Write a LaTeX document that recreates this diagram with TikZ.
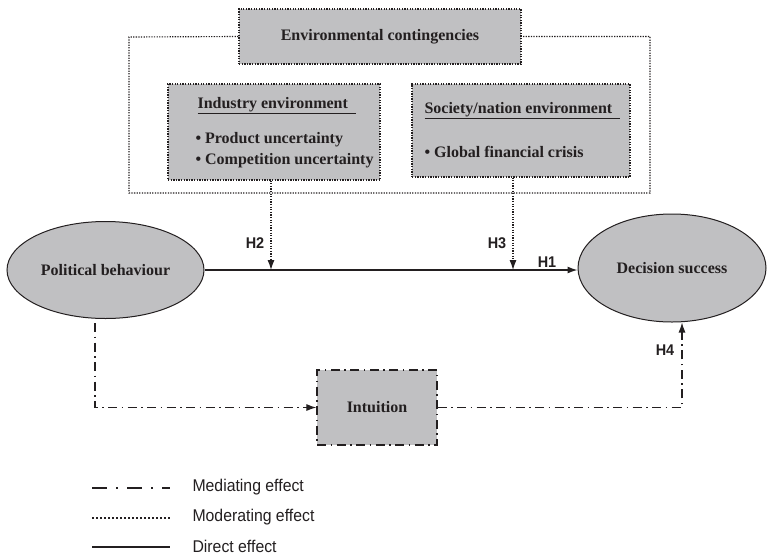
\documentclass[tikz,border=0pt]{standalone}
\usepackage{fontspec}
\setmainfont{Liberation Serif}
\newfontfamily\hsans[FakeStretch=0.93]{Liberation Sans}
\usetikzlibrary{arrows.meta,shapes.geometric}
\definecolor{boxfill}{RGB}{192,192,194}
\definecolor{ink}{RGB}{35,31,32}
\tikzset{
  every node/.style={text=ink},
  sertext/.style={font=\fontsize{16}{20}\selectfont\bfseries},
  modline/.style={draw=ink, line width=1.15pt, dash pattern=on 1.3pt off 1.3pt},
  medline/.style={draw=ink, line width=1.1pt, dash pattern=on 9pt off 4.5pt on 1.5pt off 4.5pt},
  dirline/.style={draw=ink, line width=1.3pt},
  tip/.style={-{Latex[length=10pt,width=7pt]}},
  modbox/.style={modline, fill=boxfill, inner sep=0pt},
  medbox/.style={draw=ink, line width=1.2pt, dash pattern=on 9pt off 4.5pt on 1.5pt off 4.5pt, fill=boxfill, inner sep=0pt, sertext},
  oval/.style={ellipse, draw=ink, line width=1pt, fill=boxfill, inner sep=0pt, sertext},
  hlabel/.style={font=\hsans\fontsize{15.5}{17}\selectfont\bfseries},
  legtext/.style={font=\hsans\fontsize{17}{19}\selectfont, anchor=west},
  boxtext/.style={sertext, anchor=west}
}
\begin{document}
\begin{tikzpicture}[x=1pt,y=-1pt]
\useasboundingbox (0,0) rectangle (767,555);

% Environmental contingencies
\node[modbox, sertext, minimum width=282pt, minimum height=55pt] (env) at (380,36.5) {Environmental contingencies};
\coordinate (frTL) at (129,37);
\coordinate (frBR) at (650,193);
\draw[modline] (env.west) -- (frTL) |- (frBR) |- (env.east);

% Industry environment
\node[modbox, minimum width=212pt, minimum height=96pt] (ind) at (274,132) {};
\node[boxtext] (indt) at (194,106) {\underline{Industry environment\enspace}};
\node[boxtext] (ind1) at (192,140) {• Product uncertainty};
\node[boxtext] (ind2) at (192,161) {• Competition uncertainty};

% Society/nation environment
\node[modbox, minimum width=218pt, minimum height=93pt] (soc) at (521,130.5) {};
\node[boxtext] (soct) at (421,111) {\underline{Society/nation environment\enspace}};
\node[boxtext] (soc1) at (421,152) {• Global financial crisis};

% Ellipses
\node[oval, minimum width=197pt, minimum height=97pt] (pb) at (105.5,270) {Political behaviour};
\node[oval, minimum width=188pt, minimum height=108pt] (ds) at (672,268) {Decision success};

% Intuition
\node[medbox, minimum width=120pt, minimum height=75pt] (int) at (377,407.5) {Intuition};

% Direct effect
\draw[dirline, tip] (pb.east) -- (pb.east -| ds.west);
\node[hlabel] (h1) at (547,262) {H1};

% Moderating effects
\coordinate (h2x) at (271,0);
\coordinate (h3x) at (513,0);
\draw[modline, tip] (ind.south -| h2x) -- (h2x |- pb.east);
\draw[modline, tip] (soc.south -| h3x) -- (h3x |- pb.east);
\node[hlabel] (h2) at (255,243) {H2};
\node[hlabel] (h3) at (497,243) {H3};

% Mediating effect
\coordinate (m1) at (95,323);
\coordinate (m2) at (682,0);
\draw[medline, tip] (m1) |- (int.west);
\draw[medline, tip] (int.east) -| (m2 |- ds.south);
\node[hlabel] (h4) at (665,350) {H4};

% Legend
\coordinate (l1a) at (92,488); \coordinate (l1b) at (170,488);
\coordinate (l2a) at (92,518); \coordinate (l2b) at (170,518);
\coordinate (l3a) at (92,547); \coordinate (l3b) at (170,547);
\draw[draw=ink, line width=1.7pt, dash pattern=on 15pt off 9pt on 2pt off 9pt] (l1a) -- (l1b);
\draw[draw=ink, line width=1.7pt, dash pattern=on 2pt off 2pt] (l2a) -- (l2b);
\draw[draw=ink, line width=2pt] (l3a) -- (l3b);
\node[legtext] (lg1) at (189,487) {Mediating effect};
\node[legtext] (lg2) at (189,517) {Moderating effect};
\node[legtext] (lg3) at (189,546) {Direct effect};
\end{tikzpicture}
\end{document}
